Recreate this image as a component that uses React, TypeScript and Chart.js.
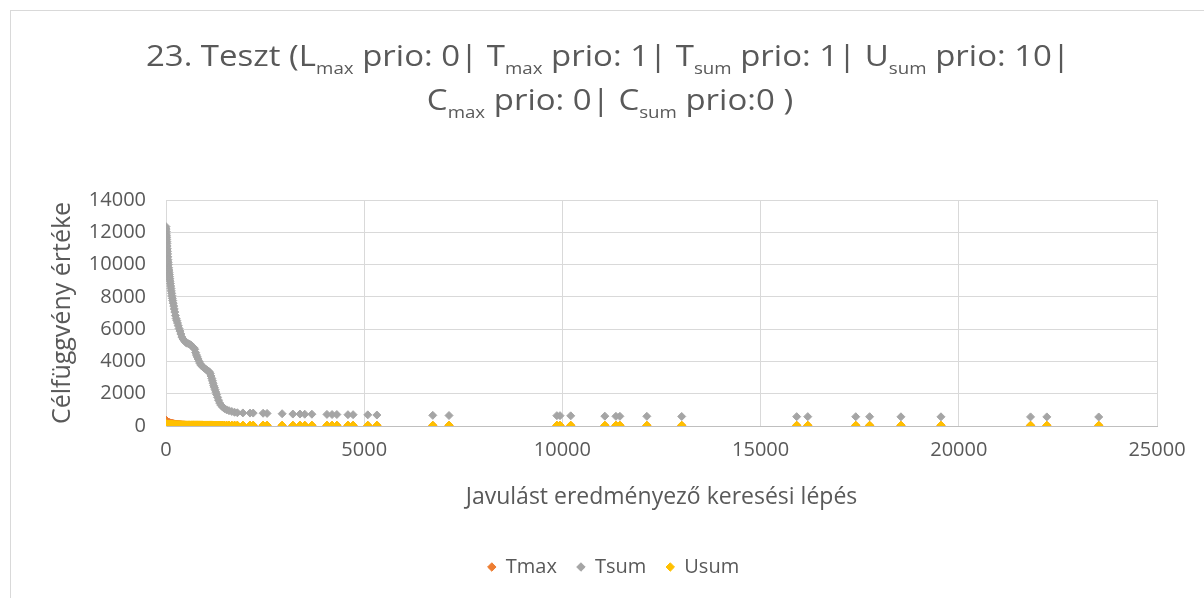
import React, { useEffect, useRef } from "react";
import { Chart, registerables } from "chart.js";

Chart.register(...registerables);

const FONT = "'Open Sans', 'Noto Sans', sans-serif";
const TEXT_COLOR = "#595959";

// Title pieces: [text, isSubscript]
const titleLine1: [string, boolean][] = [
  ["23. Teszt (L", false], ["max", true], [" prio: 0| T", false], ["max", true],
  [" prio: 1| T", false], ["sum", true], [" prio: 1| U", false], ["sum", true], [" prio: 10|", false],
];
const titleLine2: [string, boolean][] = [
  ["C", false], ["max", true], [" prio: 0| C", false], ["sum", true], [" prio:0 )", false],
];

const xAxisTitle = "Javulást eredményező keresési lépés";
const yAxisTitle = "Célfüggvény értéke";
const seriesNames = ["Tmax", "Tsum", "Usum"];
const seriesColors = ["#ED7D31", "#A5A5A5", "#FFC000"];

// Search steps that gave an improvement (x values)
const steps = [
  0, 3, 6, 9, 12, 15, 18, 21, 24, 28,
  32, 36, 40, 45, 50, 55, 60, 66, 72, 78,
  84, 90, 96, 103, 110, 118, 126, 134, 142, 150,
  160, 170, 182, 195, 208, 222, 238, 255, 272, 290,
  310, 330, 352, 375, 400, 430, 460, 495, 530, 565,
  600, 635, 670, 700, 725, 748, 768, 788, 810, 835,
  860, 890, 920, 950, 980, 1010, 1040, 1070, 1095, 1115,
  1135, 1155, 1172, 1188, 1204, 1220, 1238, 1256, 1276, 1300,
  1325, 1355, 1390, 1430, 1475, 1530, 1590, 1660, 1730, 1800,
  1940, 2120, 2200, 2450, 2550, 2930, 3200, 3380, 3500, 3680,
  4060, 4190, 4310, 4590, 4720, 5090, 5320, 6730, 7140, 9860,
  9940, 10210, 11070, 11350, 11450, 12130, 13010, 15910, 16190, 17400,
  17750, 18540, 19550, 21810, 22220, 23530,
];

const tsumValues = [
  12350, 12200, 12050, 11900, 11780, 11680, 11560, 11430, 11310, 11150,
  10980, 10820, 10660, 10480, 10300, 10140, 9990, 9800, 9660, 9520,
  9390, 9250, 9120, 8970, 8820, 8670, 8520, 8370, 8220, 8070,
  7910, 7770, 7610, 7430, 7250, 7060, 6840, 6660, 6530, 6380,
  6210, 6040, 5880, 5700, 5510, 5390, 5280, 5180, 5130, 5100,
  5060, 5000, 4900, 4850, 4750, 4550, 4400, 4280, 4150, 4000,
  3870, 3750, 3680, 3620, 3560, 3500, 3450, 3400, 3350, 3250,
  3100, 2950, 2800, 2650, 2500, 2380, 2250, 2100, 1950, 1780,
  1600, 1420, 1280, 1170, 1080, 1000, 950, 900, 850, 820,
  810, 800, 800, 790, 780, 760, 740, 740, 730, 730,
  720, 710, 710, 700, 700, 690, 680, 660, 650, 640,
  640, 630, 610, 600, 600, 600, 590, 580, 580, 575,
  575, 570, 570, 565, 565, 560,
];

const usumValues = [
  140, 135, 130, 130, 125, 125, 120, 120, 115, 115,
  110, 110, 110, 105, 105, 105, 100, 100, 100, 100,
  95, 95, 95, 95, 90, 90, 90, 90, 90, 90,
  90, 90, 85, 85, 85, 85, 85, 85, 80, 80,
  80, 80, 80, 80, 80, 80, 75, 75, 75, 75,
  75, 75, 75, 75, 70, 70, 70, 70, 70, 70,
  70, 70, 70, 65, 65, 65, 65, 65, 65, 65,
  65, 65, 65, 60, 60, 60, 60, 60, 60, 60,
  60, 60, 60, 60, 55, 55, 55, 55, 55, 55,
  55, 55, 55, 55, 50, 50, 50, 50, 50, 50,
  50, 50, 50, 50, 50, 50, 50, 50, 50, 50,
  50, 50, 50, 50, 50, 50, 50, 50, 50, 50,
  50, 50, 50, 50, 50, 50,
];

const tmaxValues = [
  350, 340, 330, 320, 310, 300, 290, 280, 270, 260,
  250, 245, 240, 235, 230, 225, 220, 215, 210, 205,
  200, 195, 190, 185, 180, 175, 170, 165, 160, 155,
  150, 145, 140, 135, 130, 125, 120, 115, 110, 105,
  100, 95, 90, 85, 80, 75, 70, 65, 60, 60,
  55, 55, 55, 50, 50, 50, 50, 50, 50, 50,
  45, 45, 45, 45, 45, 45, 45, 45, 45, 45,
  45, 45, 45, 45, 45, 45, 45, 45, 45, 45,
  40, 40, 40, 40, 40, 40, 40, 40, 40, 40,
  40, 40, 40, 40, 40, 40, 40, 40, 40, 40,
  40, 40, 40, 40, 40, 40, 40, 40, 40, 40,
  40, 40, 40, 40, 40, 40, 40, 40, 40, 40,
  40, 40, 40, 40, 40, 40,
];

const xMin = 0;
const xMax = 25000;
const xStep = 5000;
const yMin = 0;
const yMax = 14000;
const yStep = 2000;

const titlePlugin = {
  id: "subscriptTitle",
  afterDraw(chart: any) {
    const ctx: CanvasRenderingContext2D = chart.ctx;
    const mainFont = `30px ${FONT}`;
    const subFont = `17px ${FONT}`;
    const measure = (segs: [string, boolean][]) =>
      segs.reduce((w, [t, s]) => {
        ctx.font = s ? subFont : mainFont;
        return w + ctx.measureText(t).width;
      }, 0);
    ctx.save();
    ctx.fillStyle = TEXT_COLOR;
    ctx.textBaseline = "alphabetic";
    ctx.textAlign = "left";
    const sx = Math.min(1.1, 925 / measure(titleLine1));
    const lines: [[string, boolean][], number, number][] = [
      [titleLine1, 66, 608],
      [titleLine2, 110, 610],
    ];
    lines.forEach(([segs, baseline, cx]) => {
      const w = measure(segs) * sx;
      let x = cx - w / 2;
      segs.forEach(([t, s]) => {
        ctx.font = s ? subFont : mainFont;
        ctx.save();
        ctx.translate(x, baseline + (s ? 8 : 0));
        ctx.scale(sx, 1);
        ctx.fillText(t, 0, 0);
        ctx.restore();
        x += ctx.measureText(t).width * sx;
      });
    });
    ctx.restore();
  },
};

export default function App() {
  const canvasRef = useRef<HTMLCanvasElement | null>(null);

  useEffect(() => {
    if (!canvasRef.current) return;
    const seriesValues = [tmaxValues, tsumValues, usumValues];
    const orders = [2, 1, 0];
    const datasets = seriesNames.map((name, i) => ({
      label: name,
      data: steps.map((s, j) => ({ x: s, y: seriesValues[i][j] })),
      backgroundColor: seriesColors[i],
      borderColor: seriesColors[i],
      borderWidth: 1,
      pointStyle: "rectRot",
      pointRadius: 4,
      showLine: false,
      order: orders[i],
    }));

    const chart = new Chart(canvasRef.current, {
      type: "scatter",
      data: { datasets },
      plugins: [titlePlugin],
      options: {
        animation: false,
        responsive: false,
        maintainAspectRatio: false,
        layout: { padding: { left: 70, right: 47, top: 200, bottom: 11 } },
        plugins: {
          title: { display: false },
          tooltip: { enabled: false },
          legend: {
            display: true,
            position: "bottom",
            labels: {
              usePointStyle: true,
              pointStyle: "rectRot",
              boxWidth: 8,
              boxHeight: 6,
              padding: 20,
              color: TEXT_COLOR,
              font: { family: FONT, size: 20 },
              sort: (a: any, b: any) => a.datasetIndex - b.datasetIndex,
            },
          },
        },
        scales: {
          x: {
            type: "linear",
            min: xMin,
            max: xMax,
            afterFit: (scale: any) => {
              scale.height = 111;
            },
            ticks: {
              stepSize: xStep,
              padding: 12,
              color: TEXT_COLOR,
              font: { family: FONT, size: 20 },
              maxRotation: 0,
              callback: (v: any) => String(v),
            },
            grid: { color: "#d9d9d9", drawTicks: false, lineWidth: 1 },
            border: { display: true, color: "#bfbfbf", width: 1 },
            title: {
              display: true,
              text: xAxisTitle,
              color: TEXT_COLOR,
              font: { family: FONT, size: 23 },
              padding: { top: 0, bottom: 26 },
            },
          },
          y: {
            type: "linear",
            min: yMin,
            max: yMax,
            afterFit: (scale: any) => {
              scale.width = 96;
            },
            ticks: {
              stepSize: yStep,
              padding: 20,
              color: TEXT_COLOR,
              font: { family: FONT, size: 20 },
              callback: (v: any) => String(v),
            },
            grid: { color: "#d9d9d9", drawTicks: false, lineWidth: 1 },
            border: { display: true, color: "#d9d9d9", width: 1 },
            title: {
              display: true,
              text: yAxisTitle,
              color: TEXT_COLOR,
              font: { family: FONT, size: 25 },
              padding: { top: -22, bottom: 0 },
            },
          },
        },
      },
    } as any);

    return () => chart.destroy();
  }, []);

  return (
    <div
      style={{
        position: "absolute",
        left: 0,
        top: 0,
        width: 1204,
        height: 598,
        overflow: "hidden",
        background: "#ffffff",
      }}
    >
      <div
        style={{
          position: "absolute",
          left: 10,
          top: 10,
          width: 1400,
          height: 800,
          border: "1px solid #d9d9d9",
          boxSizing: "border-box",
        }}
      />
      <canvas
        ref={canvasRef}
        width={1204}
        height={598}
        style={{ position: "absolute", left: 0, top: 0, width: 1204, height: 598 }}
      />
    </div>
  );
}
